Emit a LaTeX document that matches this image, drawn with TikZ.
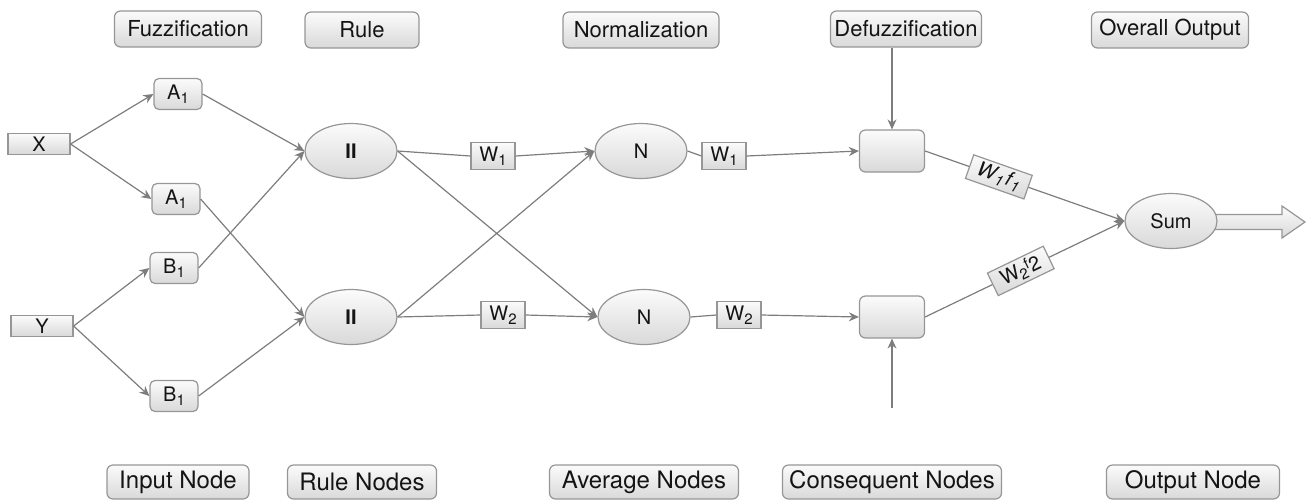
\documentclass[tikz,border=0pt]{standalone}
\usepackage{fontspec}
\setmainfont{TeX Gyre Heros}
\usetikzlibrary{arrows.meta,shapes.geometric}
\definecolor{linegray}{RGB}{125,125,125}
\definecolor{edgegray}{RGB}{150,150,150}
\definecolor{txt}{RGB}{20,20,20}
\newcommand{\lowsub}[1]{\raisebox{-0.35ex}{\fontsize{7.5}{8}\selectfont #1}}
\newcommand{\highsup}[1]{\raisebox{0.5ex}{\fontsize{7.5}{8}\selectfont #1}}
\begin{document}
\begin{tikzpicture}[x=0.5pt,y=-0.5pt,
 every node/.style={font=\fontsize{10}{11}\selectfont, inner sep=0pt, text=txt},
 shadebox/.style={draw=edgegray, top color=gray!3, bottom color=gray!30, line width=0.6pt},
 lbl/.style={shadebox, rounded corners=3pt, minimum height=18pt, font=\fontsize{11}{12}\selectfont},
 blbl/.style={shadebox, rounded corners=3pt, minimum height=17pt, font=\fontsize{12}{13}\selectfont},
 inbox/.style={shadebox, minimum width=31pt, minimum height=10.5pt},
 mf/.style={shadebox, rounded corners=2.5pt, minimum width=24pt, minimum height=15.5pt},
 wbox/.style={shadebox, minimum width=22pt, minimum height=13.5pt},
 ell/.style={shadebox, ellipse, minimum width=46pt, minimum height=27.5pt},
 cbox/.style={shadebox, rounded corners=3pt, minimum width=32.5pt, minimum height=21pt},
 conn/.style={draw=linegray, line width=0.6pt},
 arr/.style={conn, -{Stealth[length=5pt,width=4.5pt]}}
]
\useasboundingbox (0,0) rectangle (1306,499);

% top labels
\node[lbl, minimum width=73.5pt] (fuzz) at (188,29) {Fuzzification};
\node[lbl, minimum width=57pt] (rule) at (362,30) {Rule};
\node[lbl, minimum width=78pt] (norm) at (641,30) {Normalization};
\node[lbl, minimum width=75.5pt] (defuzz) at (906,29) {Defuzzification};
\node[lbl, minimum width=78.5pt] (overall) at (1170,30) {Overall Output};

% bottom labels
\node[blbl, minimum width=71pt] (inn) at (178,482) {Input Node};
\node[blbl, minimum width=74.5pt] (rn) at (362,482) {Rule Nodes};
\node[blbl, minimum width=94.5pt] (an) at (644,482) {Average Nodes};
\node[blbl, minimum width=109.5pt] (cn) at (892,482) {Consequent Nodes};
\node[blbl, minimum width=86.5pt] (on) at (1193,482) {Output Node};

% inputs
\node[inbox] (X) at (39,144) {X};
\node[inbox] (Y) at (42,326) {Y};

% membership
\node[mf] (A1) at (178,94) {A\lowsub{1}};
\node[mf] (A2) at (176,199) {A\lowsub{1}};
\node[mf] (B1) at (174,268) {B\lowsub{1}};
\node[mf] (B2) at (174,396) {B\lowsub{1}};

% rule nodes
\node[ell] (P1) at (351,151) {\textbf{II}};
\node[ell] (P2) at (351,317) {\textbf{II}};

% weights
\node[wbox] (w1a) at (493,156) {W\lowsub{1}};
\node[wbox] (w2a) at (503,315) {W\lowsub{2}};

% normalization
\node[ell] (N1) at (641,151) {N};
\node[ell] (N2) at (644,317) {N};

\node[wbox] (w1b) at (724,156) {W\lowsub{1}};
\node[wbox] (w2b) at (739,315) {W\lowsub{2}};

% consequent boxes
\node[cbox] (D1) at (892,151) {};
\node[cbox] (D2) at (892,317) {};
\coordinate (cin) at (892,408);

% output arrow
\draw[shadebox] (1212,214.5) -- (1282,214.5) -- (1282,206) -- (1305,222) -- (1282,238) -- (1282,229.5) -- (1212,229.5) -- cycle;
\node[ell] (Sum) at (1171,221) {Sum};

% connectors
\draw[arr] (X.east) -- (A1.west);
\draw[arr] (X.east) -- (A2.west);
\draw[arr] (Y.east) -- (B1.west);
\draw[arr] (Y.east) -- (B2.west);

\draw[arr] (A1.east) -- (P1.west);
\draw[arr] (B1.east) -- (P1.west);
\draw[arr] (A2.east) -- (P2.west);
\draw[arr] (B2.east) -- (P2.west);

\draw[conn] (P1.east) -- (w1a.west);
\draw[arr] (w1a.east) -- (N1.west);
\draw[arr] (P1.east) -- (N2.west);
\draw[arr] (P2.east) -- (N1.west);
\draw[conn] (P2.east) -- (w2a.west);
\draw[arr] (w2a.east) -- (N2.west);

\draw[conn] (N1.east) -- (w1b.west);
\draw[arr] (w1b.east) -- (D1.west);
\draw[conn] (N2.east) -- (w2b.west);
\draw[arr] (w2b.east) -- (D2.west);

\draw[arr] (D1.north |- defuzz.south) -- (D1.north);
\draw[arr] (cin) -- (D2.south);

\draw[arr] (D1.east) -- node[wbox, sloped, pos=0.37, minimum width=31pt, minimum height=12.5pt, font=\fontsize{10}{11}\itshape] (wf1) {W\kern0.6pt\lowsub{1}\kern0.8pt f\kern0.6pt\lowsub{1}} (Sum.west);
\draw[arr] (D2.east) -- node[wbox, sloped, pos=0.48, minimum width=31pt, minimum height=12.5pt] (wf2) {W\lowsub{2}\highsup{f}2} (Sum.west);
\end{tikzpicture}
\end{document}
